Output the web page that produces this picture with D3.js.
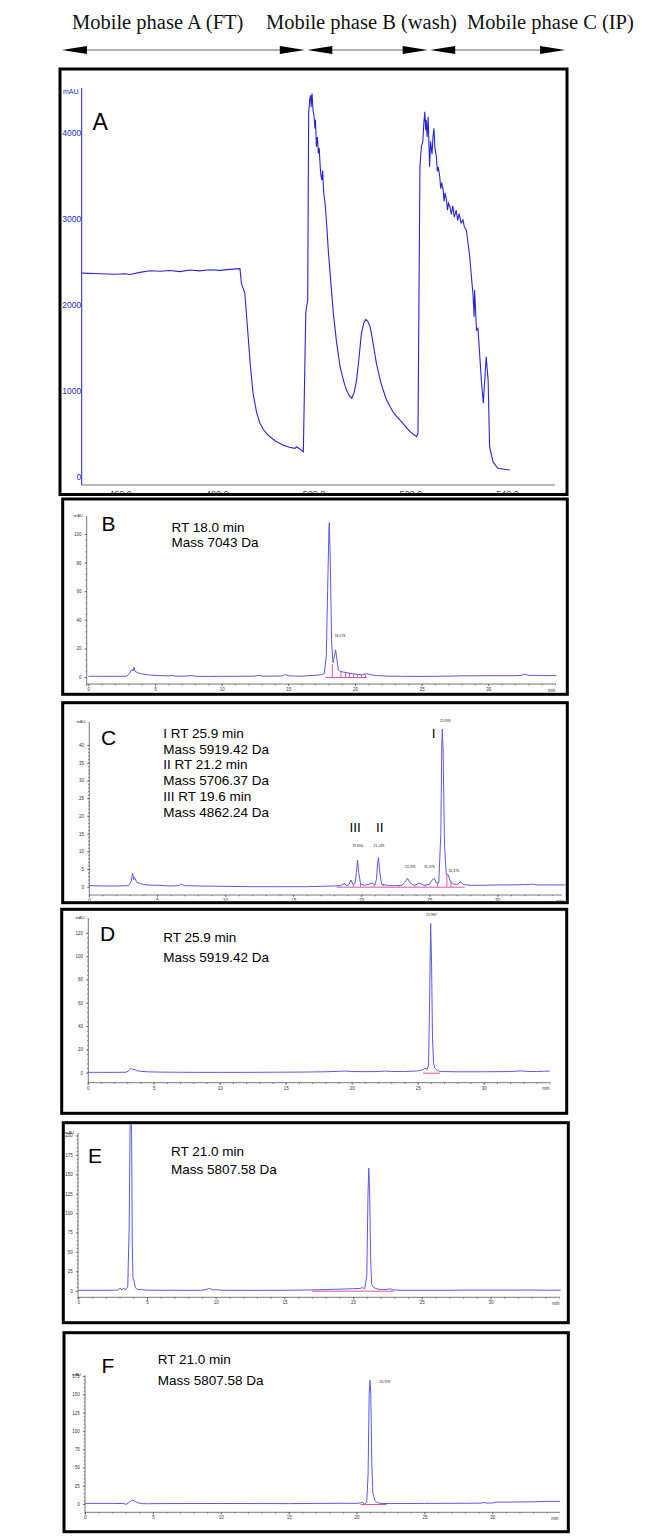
<!DOCTYPE html>
<html><head><meta charset="utf-8">
<script src="https://cdn.jsdelivr.net/npm/d3@7"></script>
<style>body{margin:0;background:#fff}svg{display:block}</style>
</head><body><div id="c"></div>
<script>
// ---------------- DATA ----------------
const phaseNames=["Mobile phase A (FT)","Mobile phase B (wash)","Mobile phase C (IP)"];
const phaseEdges=[448,498.2,523.6,552];           // minutes (panel A time axis)

// Panel A (preparative run, min vs mAU)
const aTime=[452.2,455.9,459.0,461.0,462.1,464.1,466.2,468.3,470.3,472.4,474.5,476.5,478.6,480.7,482.7,484.8,485.1,485.8,486.4,486.9,487.5,488.2,488.9,489.6,490.3,491.0,492.2,493.7,495.0,496.2,496.5,497.9,498.4,498.8,499.0,499.2,499.4,499.5,499.7,499.9,500.1,500.3,500.4,500.6,500.8,501.0,501.2,501.3,501.5,501.7,501.9,502.1,502.4,502.7,503.1,503.6,504.1,504.8,505.5,506.2,506.8,507.4,507.9,508.4,508.9,509.4,509.9,510.4,510.8,511.2,511.7,512.3,513.0,514.0,515.1,516.4,517.4,518.5,519.9,521.3,521.6,522.0,522.3,522.6,522.8,523.0,523.2,523.3,523.5,523.7,523.9,524.0,524.2,524.5,524.7,524.9,525.1,525.4,525.6,525.8,526.1,526.3,526.5,526.8,527.0,527.2,527.5,527.7,527.9,528.2,528.5,528.8,529.1,529.5,529.8,530.1,530.5,530.9,531.2,531.6,532.3,533.0,533.2,533.3,533.7,534.0,534.7,535.1,535.4,535.7,536.1,536.4,537.1,538.1,540.6];
const aVal=[2369,2362,2355,2362,2352,2377,2396,2390,2399,2386,2404,2395,2408,2400,2412,2420,2250,2137,1700,1324,975,760,627,555,505,468,415,372,345,333,352,294,1905,2056,4224,4380,4437,4300,4456,4262,4200,4050,4150,3836,3950,3760,3820,3682,3520,3449,3560,3300,3178,2950,2598,2250,1901,1550,1281,1120,1010,945,914,980,1126,1380,1668,1790,1831,1810,1746,1560,1320,1080,894,758,690,623,530,468,510,3604,3836,3900,4100,4243,4030,4150,3950,4185,3800,3604,3900,3750,3950,4050,3820,3720,3550,3600,3488,3350,3420,3333,3200,3300,3217,3100,3180,3140,3050,3150,3020,3101,2980,3060,2950,2985,2900,2869,2559,2095,1863,2172,1707,1727,1126,856,1126,1397,1126,352,178,101,81];
const aYTicks=[0,1000,2000,3000,4000];
const aXTicks=[460,480,500,520,540];

// Panel B
const bTime=[0,1,2,2.9,3.1,3.2,3.3,3.35,3.43,3.5,3.7,4.0,4.5,5.0,6.0,6.3,6.6,7.5,7.8,8.1,9,10,11,12.5,12.8,13.1,14.5,14.8,15.1,16,17,17.5,17.7,17.85,17.95,18.05,18.08,18.15,18.25,18.35,18.45,18.55,18.65,18.75,18.9,19.1,19.4,19.8,20.2,20.5,20.9,21.2,21.6,22.5,23.5,25,26,27,28,30,32,32.5,32.76,33,34,35.1];
const bVal=[0.5,0.5,0.5,0.6,2.5,4.5,5.0,4.2,6.8,4.0,3.0,2.2,1.5,1.1,0.8,1.0,0.6,0.7,1.0,0.5,0.4,0.5,0.5,0.6,1.2,0.6,0.7,1.6,0.7,0.6,1.2,1.6,2.5,15,60,105,108,80,25,10,14,19,12,5,4,3.5,3,2.3,1.8,1.6,2.3,1.5,1.0,0.6,0.5,0.4,0.5,0.6,0.8,0.9,0.9,1.2,2.0,1.2,1.0,1.0];
const bYTicks=[0,20,40,60,80,100];
const bPink=[17.8,20.9];
const bDropTime=[18.3,18.95,19.3,19.6,19.9,20.2,20.5,20.8];
const bDropVal=[9,4,3.2,2.8,2.4,2.0,1.7,1.5];
const bLabelTime=[18.88], bLabelVal=[28.2], bLabelText=["18.576"];
const bNotes=["RT 18.0 min","Mass 7043 Da"];

// Panel C
const cTime=[0,1,2,2.9,3.1,3.2,3.28,3.35,3.5,3.8,4.2,5,6,6.6,6.8,7.0,8,10,12,14,16,17,18.0,18.5,18.75,18.95,19.1,19.25,19.4,19.55,19.65,19.73,19.82,19.95,20.2,20.5,20.8,21.0,21.12,21.2,21.27,21.35,21.5,22,22.5,23.0,23.2,23.4,23.6,23.9,24.3,24.6,25.0,25.2,25.35,25.5,25.7,25.85,25.92,25.96,26.02,26.12,26.25,26.4,26.55,26.8,27.1,27.3,27.5,28,29,30,31,32,32.6,33,34,35];
const cVal=[0.3,0.2,0.2,0.3,1.5,3.8,2.0,2.6,1.3,0.8,0.5,0.4,0.2,0.3,0.7,0.3,0.2,0.1,0.0,0.0,0.0,0.1,0.2,0.3,0.9,0.3,0.6,1.9,0.6,1.0,4,7.5,4,0.8,0.4,0.6,1.1,0.5,2.0,6.5,8.2,4.5,0.7,0.3,0.3,0.4,1.2,2.4,1.0,0.4,1.0,0.4,0.6,1.8,2.4,1.2,1.0,15,40,44.5,38,12,3.5,3.3,1.5,0.7,0.7,1.4,0.6,0.4,0.4,0.5,0.5,0.6,0.7,0.5,0.5,0.5];
const cYTicks=[0,5,10,15,20,25,30,35,40];
const cPink=[18.2,27.6];
const cDropTime=[19.45,19.95,20.95,21.6,22.8,23.95,24.7,25.6,26.3,26.6];
const cDropVal=[0.6,0.8,0.5,0.7,0.3,0.4,0.4,1.0,3.3,1.5];
const cLabelTime=[19.73,21.3,23.6,25.0,26.18,26.8], cLabelVal=[11.1,11.1,5.2,5.2,46.5,4.2];
const cLabelText=["19.656","21.249","23.376","25.376","25.939","26.370"];
const cNotes=["I RT 25.9 min","Mass 5919.42 Da","II RT 21.2 min","Mass 5706.37 Da","III RT 19.6 min","Mass 4862.24 Da"];
const cRoman=["III","II","I"], cRomanTime=[19.56,21.37,25.32], cRomanVal=[15.3,15.3,42.1];

// Panel D
const dTime=[0,1,2,2.9,3.1,3.28,3.4,3.5,3.7,4.0,4.5,5.5,8,10,12,14,16,18,19,19.5,20,21,22,22.5,23,24,25,25.4,25.55,25.7,25.82,25.9,25.98,26.05,26.12,26.2,26.3,26.5,26.8,28,30,32,32.9,33.3,34,34.6,35];
const dVal=[0.3,0.3,0.3,0.4,1.5,3.8,2.5,3.0,1.8,1.2,0.8,0.5,0.3,0.3,0.3,0.4,0.5,0.8,1.2,1.4,1.0,0.9,1.0,1.4,1.0,1.0,1.5,2.5,4.0,2.5,6,60,128,95,30,8,4,1.8,1.0,0.8,0.8,1.0,1.6,1.0,1.0,1.3,1.3];
const dYTicks=[0,20,40,60,80,100,120];
const dPink=[25.4,26.7];
const dLabelTime=[26.05], dLabelVal=[134.5], dLabelText=["25.987"];
const dNotes=["RT 25.9 min","Mass 5919.42 Da"];

// Panel E
const eTime=[0,1,2,2.9,3.05,3.15,3.3,3.45,3.6,3.7,3.78,3.82,3.88,3.93,3.98,4.05,4.15,4.3,5,6,7,8,9,9.4,9.55,9.8,10.1,10.4,11,13,15,17,18,19,20,20.5,20.7,20.85,21.0,21.08,21.14,21.2,21.28,21.35,21.5,21.8,22.2,22.5,22.7,22.9,23.5,25,27,28,30,32,33,34,35.1];
const eVal=[0.5,0.5,0.5,0.8,3.5,1.0,3.0,1.5,5,80,230,260,200,60,15,14,4,1.5,0.8,0.5,0.6,0.4,0.5,2,3,1.0,1.2,0.6,0.5,0.4,0.5,1.0,1.5,2.0,2.5,3.0,4.0,2.5,20,120,158,130,40,8,4,2.0,1.5,1.8,2.5,1.2,0.5,0.5,0.5,0.8,0.8,0.8,0.9,0.6,0.6];
const eYTicks=[0,25,50,75,100,125,150,175,200];
const ePink=[17.0,23.0];
const eNotes=["RT 21.0 min","Mass 5807.58 Da"];

// Panel F
const fTime=[0,1,2,2.8,3.05,3.2,3.4,3.5,3.7,3.9,4.2,4.6,5,7,10,13,15,17,19,20.0,20.3,20.45,20.6,20.75,20.85,20.93,20.99,21.05,21.12,21.2,21.35,21.5,21.8,22.5,25,28,29.2,29.4,29.6,30.0,30.3,31,33,34,35];
const fVal=[0.8,0.8,0.8,0.6,-0.3,1.5,4.5,5.5,3.5,1.5,0.5,0.3,0.5,0.6,0.7,0.6,0.5,0.8,1.0,0.8,1.5,2.2,0.0,2,40,150,169,150,60,15,5,2,0.8,0.6,0.8,1.0,1.2,2.2,1.2,1.4,2.6,2.6,3.0,3.6,3.6];
const fYTicks=[0,25,50,75,100,125,150,175];
const fPink=[20.3,22.2];
const fLabelTime=[22.09], fLabelVal=[165.7], fLabelText=["20.976"];
const fNotes=["RT 21.0 min","Mass 5807.58 Da"];
const xTicksMajor=[0,5,10,15,20,25,30];

// ---------------- DRAW ----------------
const W=666,H=1539;
const svg=d3.select("#c").append("svg").attr("width",W).attr("height",H);
const SANS="'Liberation Sans',Arial,Helvetica,sans-serif";
const SERIF="'Liberation Serif','Times New Roman',serif";
const BLUE_A="#2626d4", BLUE="#5a5ae6", PINK="#e0409a";

// header
const xA=d3.scaleLinear().domain([460,540]).range([120,507]);
const yA=d3.scaleLinear().domain([0,4000]).range([477,132.7]);
const hdrX=[72,266,467];
svg.selectAll("text.ph").data(phaseNames).join("text").attr("class","ph")
  .attr("x",(d,i)=>hdrX[i]).attr("y",29).attr("font-family",SERIF).attr("font-size",20.5).attr("fill","#111").text(d=>d);
const arrowY=50;
d3.range(3).forEach(i=>{
  const a=xA(phaseEdges[i])+(i?2.5:0), b=xA(phaseEdges[i+1]);
  svg.append("line").attr("x1",a+10).attr("x2",b-10).attr("y1",arrowY).attr("y2",arrowY).attr("stroke","#999").attr("stroke-width",1.3);
  svg.append("path").attr("d",`M${a},${arrowY}L${a+25},${arrowY-4}L${a+25},${arrowY+4}Z`).attr("fill","#000");
  svg.append("path").attr("d",`M${b},${arrowY}L${b-25},${arrowY-4}L${b-25},${arrowY+4}Z`).attr("fill","#000");
});

function frame(id,x0,y0,x1,y1){
  svg.append("clipPath").attr("id",id).append("rect").attr("x",x0+1.5).attr("y",y0+1.5).attr("width",x1-x0-3).attr("height",y1-y0-3);
  return ()=>svg.append("rect").attr("x",x0).attr("y",y0).attr("width",x1-x0).attr("height",y1-y0)
    .attr("fill","none").attr("stroke","#000").attr("stroke-width",3);
}

// Panel A
{
  const drawFrame=frame("clipA",60,69,567,494.5);
  const g=svg.append("g").attr("clip-path","url(#clipA)");
  g.append("line").attr("x1",81.7).attr("x2",81.7).attr("y1",yA(4520)).attr("y2",yA(-93)).attr("stroke",BLUE_A).attr("stroke-width",1);
  const ya=g.append("g").attr("transform","translate(81.7,0)").call(d3.axisLeft(yA).tickValues(aYTicks).tickSize(0).tickPadding(0.5).tickFormat(d3.format("d")));
  ya.select(".domain").remove();
  ya.selectAll("text").attr("font-family",SANS).attr("font-size",8.5).attr("fill",BLUE_A);
  g.append("text").attr("x",63).attr("y",93.5).attr("font-family",SANS).attr("font-size",7).attr("fill",BLUE_A).text("mAU");
  g.append("line").attr("x1",81.7).attr("x2",555).attr("y1",yA(-93)).attr("y2",yA(-93)).attr("stroke","#777").attr("stroke-width",1);
  const xa=g.append("g").attr("transform","translate(0,489)").call(d3.axisBottom(xA).tickValues(aXTicks).tickSize(0).tickPadding(0).tickFormat(d3.format(".1f")));
  xa.select(".domain").remove();
  xa.selectAll("text").attr("font-family",SANS).attr("font-size",9).attr("fill","#445").attr("dy","0.9em");
  g.append("text").attr("x",548).attr("y",498).attr("font-family",SANS).attr("font-size",8).attr("fill","#445").text("min");
  g.append("path").datum(d3.zip(aTime,aVal)).attr("d",d3.line().x(d=>xA(d[0])).y(d=>yA(d[1])))
    .attr("fill","none").attr("stroke",BLUE_A).attr("stroke-width",1.1);
  g.append("text").attr("x",92.5).attr("y",130).attr("font-family",SANS).attr("font-size",23).text("A");
  drawFrame();
}

function chrom(o){
  const drawFrame=frame("clip"+o.id,o.fx0,o.fy0,o.fx1,o.fy1);
  const g=svg.append("g").attr("clip-path",`url(#clip${o.id})`);
  const x=d3.scaleLinear().domain([0,30]).range([o.x0,o.x30]);
  const yMax=o.yTicks[o.yTicks.length-1];
  const y=d3.scaleLinear().domain([0,yMax]).range([o.y0,o.yTop]);
  const axCol="#555";
  g.append("line").attr("x1",o.ax).attr("x2",o.ax).attr("y1",o.ayTop).attr("y2",o.axisY+2).attr("stroke",axCol).attr("stroke-width",0.8);
  const step=o.yTicks[1]-o.yTicks[0];
  const minorY=d3.range(0,yMax+0.001,step/5).filter(v=>y(v)>=o.ayTop);
  const gy=g.append("g").attr("transform",`translate(${o.ax},0)`);
  gy.call(d3.axisLeft(y).tickValues(minorY).tickSize(1.2).tickFormat("")).select(".domain").remove();
  const gy2=g.append("g").attr("transform",`translate(${o.ax},0)`);
  gy2.call(d3.axisLeft(y).tickValues(o.yTicks).tickSize(2.2).tickPadding(3));
  gy2.select(".domain").remove();
  g.selectAll(".tick line").attr("stroke",axCol).attr("stroke-width",0.7);
  gy2.selectAll("text").attr("font-family",SANS).attr("font-size",4.5).attr("fill","#333");
  g.append("text").attr("x",o.ax-4).attr("y",o.ayTop+1).attr("text-anchor","end").attr("font-family",SANS).attr("font-size",4).attr("fill","#333").text("mAU");
  g.append("line").attr("x1",o.ax).attr("x2",o.xEnd).attr("y1",o.axisY).attr("y2",o.axisY).attr("stroke",axCol).attr("stroke-width",0.8);
  const minorX=d3.range(0,Math.floor(x.invert(o.xEnd))+1);
  const gx=g.append("g").attr("transform",`translate(0,${o.axisY})`);
  gx.call(d3.axisBottom(x).tickValues(minorX).tickSize(1.3).tickFormat("")).select(".domain").remove();
  const gx2=g.append("g").attr("transform",`translate(0,${o.axisY})`);
  gx2.call(d3.axisBottom(x).tickValues(xTicksMajor).tickSize(2.2).tickPadding(1.5));
  gx2.select(".domain").remove();
  g.selectAll(".tick line").attr("stroke",axCol).attr("stroke-width",0.7);
  gx2.selectAll("text").attr("font-family",SANS).attr("font-size",4.5).attr("fill","#333");
  g.append("text").attr("x",o.minX).attr("y",o.axisY+7.5).attr("text-anchor","middle").attr("font-family",SANS).attr("font-size",4.5).attr("fill","#333").text("min");
  if(o.pink){
    g.append("line").attr("x1",x(o.pink[0])).attr("x2",x(o.pink[1])).attr("y1",y(0)+0.5).attr("y2",y(0)+0.5).attr("stroke",PINK).attr("stroke-width",0.9);
  }
  if(o.dropT){
    g.selectAll("line.drop").data(d3.zip(o.dropT,o.dropV)).join("line").attr("class","drop")
      .attr("x1",d=>x(d[0])).attr("x2",d=>x(d[0])).attr("y1",y(0)).attr("y2",d=>y(d[1])).attr("stroke",PINK).attr("stroke-width",0.9);
  }
  g.append("path").datum(d3.zip(o.t,o.v)).attr("d",d3.line().x(d=>x(d[0])).y(d=>y(d[1])))
    .attr("fill","none").attr("stroke",BLUE).attr("stroke-width",1);
  if(o.lt){
    g.selectAll("text.pl").data(d3.zip(o.lt,o.lv,o.ltext)).join("text").attr("class","pl")
      .attr("x",d=>x(d[0])).attr("y",d=>y(d[1])).attr("text-anchor","middle").attr("font-family",SANS).attr("font-size",3.5).attr("fill","#222").text(d=>d[2]);
  }
  g.append("text").attr("x",o.letX).attr("y",o.letY).attr("font-family",SANS).attr("font-size",21).attr("fill","#000").text(o.letter);
  g.selectAll("text.note").data(o.notes).join("text").attr("class","note")
    .attr("x",o.noteX).attr("y",(d,i)=>o.noteY+i*o.noteDy).attr("font-family",SANS).attr("font-size",13.5).attr("fill","#000").text(d=>d);
  if(o.roman){
    g.selectAll("text.rom").data(d3.zip(o.roman,o.romT,o.romV)).join("text").attr("class","rom")
      .attr("x",d=>x(d[1])).attr("y",d=>y(d[2])).attr("text-anchor","middle").attr("font-family",SANS).attr("font-size",13.5).text(d=>d[0]);
  }
  drawFrame();
}

chrom({id:"B",fx0:62.7,fy0:499,fx1:567.3,fy1:694.3,x0:88.3,x30:488.3,y0:677,yTop:534,yTicks:bYTicks,ax:86.7,ayTop:516,axisY:684,xEnd:556,minX:551.7,
  t:bTime,v:bVal,pink:bPink,dropT:bDropTime,dropV:bDropVal,lt:bLabelTime,lv:bLabelVal,ltext:bLabelText,
  letter:"B",letX:101.5,letY:530.5,notes:bNotes,noteX:171.5,noteY:532,noteDy:15});
chrom({id:"C",fx0:62.7,fy0:702.7,fx1:567.3,fy1:902.7,x0:89,x30:497.3,y0:886.7,yTop:745,yTicks:cYTicks,ax:89.3,ayTop:722,axisY:895,xEnd:562,minX:560,
  t:cTime,v:cVal,pink:cPink,dropT:cDropTime,dropV:cDropVal,lt:cLabelTime,lv:cLabelVal,ltext:cLabelText,
  letter:"C",letX:101,letY:745,notes:cNotes,noteX:163.3,noteY:737.6,noteDy:15.9,roman:cRoman,romT:cRomanTime,romV:cRomanVal});
chrom({id:"D",fx0:61.7,fy0:909.3,fx1:566.7,fy1:1113.3,x0:87.7,x30:483.7,y0:1072.7,yTop:932.9,yTicks:dYTicks,ax:88.3,ayTop:918,axisY:1082.7,xEnd:550,minX:546,
  t:dTime,v:dVal,pink:dPink,lt:dLabelTime,lv:dLabelVal,ltext:dLabelText,
  letter:"D",letX:100,letY:941,notes:dNotes,noteX:163.3,noteY:941.6,noteDy:20});
chrom({id:"E",fx0:63.3,fy0:1122.7,fx1:568.3,fy1:1322.7,x0:78.3,x30:490.5,y0:1290.7,yTop:1135.5,yTicks:eYTicks,ax:78,ayTop:1133,axisY:1297.3,xEnd:560,minX:556,
  t:eTime,v:eVal,pink:ePink,
  letter:"E",letX:88,letY:1162.7,notes:eNotes,noteX:171,noteY:1155.6,noteDy:18.3});
chrom({id:"F",fx0:64,fy0:1332.7,fx1:568.3,fy1:1531.7,x0:85,x30:492.3,y0:1504,yTop:1376,yTicks:fYTicks,ax:85,ayTop:1375,axisY:1512.3,xEnd:560,minX:555,
  t:fTime,v:fVal,pink:fPink,lt:fLabelTime,lv:fLabelVal,ltext:fLabelText,
  letter:"F",letX:101.5,letY:1372.7,notes:fNotes,noteX:157.7,noteY:1364.2,noteDy:20.7});
</script></body></html>
